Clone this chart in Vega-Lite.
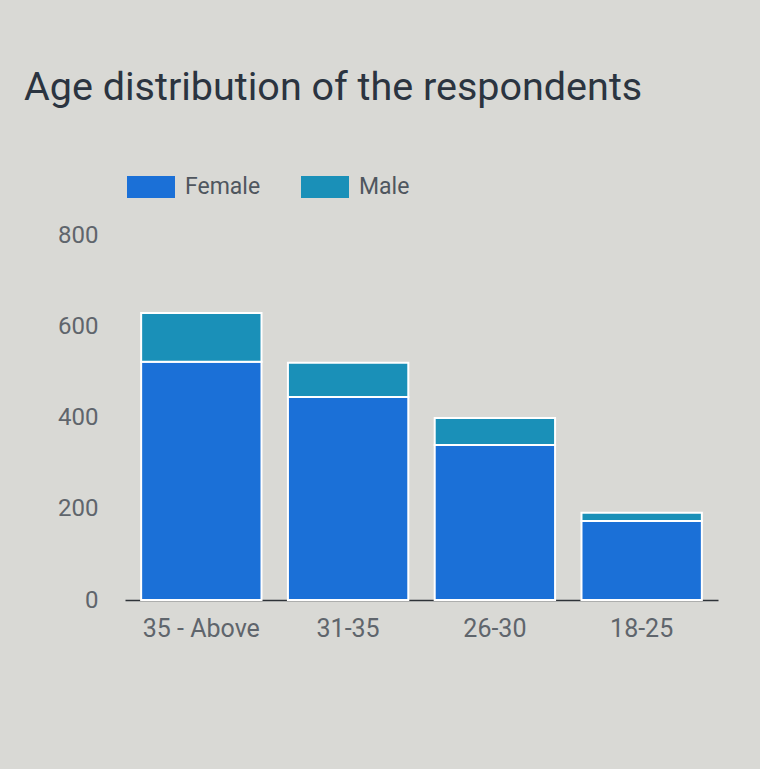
{
  "$schema": "https://vega.github.io/schema/vega-lite/v6.json",
  "autosize": "none",
  "width": 593,
  "height": 365,
  "padding": {"left": 125, "top": 235, "right": 42, "bottom": 169},
  "background": "#d9d9d5",
  "title": {
    "text": "Age distribution of the respondents",
    "anchor": "start",
    "frame": "group",
    "dx": -101,
    "offset": 55,
    "font": "Roboto",
    "fontSize": 39.5,
    "fontWeight": "normal",
    "color": "#2b3440"
  },
  "data": {
    "values": [
      {"age": "35 - Above", "gender": "Female", "count": 522},
      {"age": "35 - Above", "gender": "Male", "count": 107},
      {"age": "31-35", "gender": "Female", "count": 445},
      {"age": "31-35", "gender": "Male", "count": 75},
      {"age": "26-30", "gender": "Female", "count": 340},
      {"age": "26-30", "gender": "Male", "count": 59},
      {"age": "18-25", "gender": "Female", "count": 173},
      {"age": "18-25", "gender": "Male", "count": 18}
    ]
  },
  "mark": {"type": "bar", "stroke": "#ffffff", "strokeWidth": 2},
  "encoding": {
    "x": {
      "field": "age",
      "type": "nominal",
      "sort": null,
      "scale": {"paddingInner": 0.18, "paddingOuter": 0.11},
      "axis": {
        "title": null,
        "labelAngle": 0,
        "labelFont": "Roboto",
        "labelFontSize": 25,
        "labelColor": "#5f656c",
        "labelPadding": 16,
        "ticks": false,
        "domainColor": "#2e3338",
        "domainWidth": 1.5
      }
    },
    "y": {
      "field": "count",
      "type": "quantitative",
      "stack": "zero",
      "scale": {"domain": [0, 800]},
      "axis": {
        "title": null,
        "values": [0, 200, 400, 600, 800],
        "grid": false,
        "domain": false,
        "ticks": false,
        "labelFont": "Roboto",
        "labelFontSize": 24,
        "labelColor": "#5f656c",
        "labelPadding": 27
      }
    },
    "order": {"field": "gender", "sort": "ascending"},
    "color": {
      "field": "gender",
      "type": "nominal",
      "scale": {"domain": ["Female", "Male"], "range": ["#1b70d7", "#1a90b8"]},
      "legend": {
        "title": null,
        "orient": "none",
        "direction": "horizontal",
        "legendX": 2,
        "legendY": -72,
        "padding": 0,
        "symbolType": "M-1,-0.46H1V0.46H-1Z",
        "symbolSize": 2304,
        "symbolStrokeWidth": 0,
        "symbolOpacity": 1,
        "labelFont": "Roboto",
        "labelFontSize": 23,
        "labelColor": "#4f565e",
        "labelOffset": 10,
        "columnPadding": 40
      }
    }
  },
  "config": {"view": {"stroke": null}}
}
